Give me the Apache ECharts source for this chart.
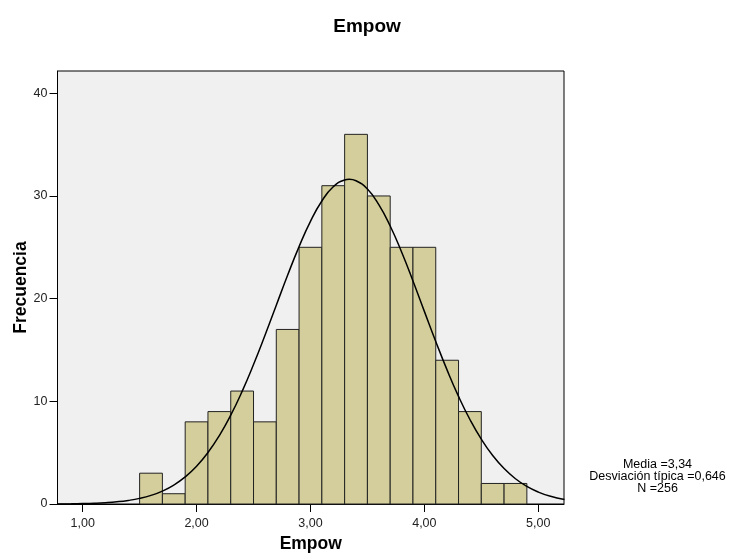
<!DOCTYPE html>
<html>
<head>
<meta charset="utf-8">
<script src="https://cdn.jsdelivr.net/npm/echarts@6/dist/echarts.min.js"></script>
<style>html,body{margin:0;padding:0;background:#fff}#c{width:734px;height:556px}</style>
</head>
<body>
<div id="c"></div>
<script>
// Histogram bins (lower edge, width 0.2) and frequencies
var binStarts = [1.5,1.7,1.9,2.1,2.3,2.5,2.7,2.9,3.1,3.3,3.5,3.7,3.9,4.1,4.3,4.5,4.7];
var binWidth = 0.2;
var counts = [3,1,8,9,11,8,17,25,31,36,30,25,25,14,9,2,2];
// Normal curve
var curveX = [0.78,0.9,1.0,1.1,1.2,1.3,1.4,1.5,1.6,1.7,1.8,1.9,2.0,2.1,2.2,2.3,2.4,2.5,2.6,2.7,2.8,2.9,3.0,3.1,3.2,3.3,3.34,3.4,3.5,3.6,3.7,3.8,3.9,4.0,4.1,4.2,4.3,4.4,4.5,4.6,4.7,4.8,4.9,5.0,5.1,5.23];
var curveY = [0.012,0.025,0.045,0.077,0.131,0.216,0.348,0.547,0.841,1.26,1.845,2.636,3.678,5.01,6.666,8.65,10.97,13.58,16.41,19.36,22.30,25.07,27.53,29.51,30.89,31.56,31.62,31.48,30.67,29.16,27.07,24.54,21.72,18.76,15.83,13.04,10.48,8.23,6.31,4.72,3.45,2.459,1.713,1.165,0.773,0.438];
var xTicks = [1,2,3,4,5];
var yTicks = [0,10,20,30,40];
var titleText = 'Empow';
var xName = 'Empow';
var yName = 'Frecuencia';
var statsLines = ['Media =3,34','Desviación típica =0,646','N =256'];

var font = 'Liberation Sans, Arial, sans-serif';
var chart = echarts.init(document.getElementById('c'));
var barData = binStarts.map(function(s,i){return [s, s+binWidth, counts[i]];});
var lineData = curveX.map(function(x,i){return [x, curveY[i]];});

chart.setOption({
  animation:false,
  backgroundColor:'#ffffff',
  title:{text:titleText,left:'center',top:12,textStyle:{fontFamily:font,fontSize:19,fontWeight:'bold',color:'#000'}},
  grid:{left:57.5,top:71,right:170,bottom:52,show:true,backgroundColor:'#f0f0f0',borderColor:'#000',borderWidth:1,containLabel:false,outerBoundsMode:'none'},
  xAxis:{type:'value',min:0.779,max:5.226,
    name:xName,nameLocation:'middle',nameGap:31,nameMoveOverlap:false,
    nameTextStyle:{fontFamily:font,fontSize:17.5,fontWeight:'bold',color:'#000'},
    axisLine:{show:true,onZero:false,lineStyle:{color:'#000',width:1}},
    axisTick:{show:true,customValues:xTicks,length:8,lineStyle:{color:'#000'}},
    axisLabel:{customValues:xTicks,fontFamily:font,fontSize:12.5,color:'#222',margin:13,
      formatter:function(v){return v.toFixed(2).replace('.',',');}},
    splitLine:{show:false}},
  yAxis:{type:'value',min:0,max:42.17,
    name:yName,nameLocation:'middle',nameGap:27,nameMoveOverlap:false,
    nameTextStyle:{fontFamily:font,fontSize:17.5,fontWeight:'bold',color:'#000'},
    axisLine:{show:true,lineStyle:{color:'#000',width:1}},
    axisTick:{show:true,customValues:yTicks,length:8,lineStyle:{color:'#000'}},
    axisLabel:{customValues:yTicks,fontFamily:font,fontSize:12.5,color:'#222',margin:10},
    splitLine:{show:false}},
  series:[
    {type:'custom',
     renderItem:function(params,api){
       var p0 = api.coord([api.value(0),0]);
       var p1 = api.coord([api.value(1),api.value(2)]);
       return {type:'rect',shape:{x:p0[0],y:p1[1],width:p1[0]-p0[0],height:p0[1]-p1[1]},
         style:{fill:'#d3ce9b',stroke:'#222',lineWidth:1}};
     },
     encode:{x:[0,1],y:2},
     data:barData,z:2},
    {type:'line',data:lineData,smooth:true,showSymbol:false,symbol:'none',clip:true,
     lineStyle:{color:'#000',width:1.5},z:3}
  ],
  graphic:[{type:'text',x:657.5,y:459,
    style:{text:statsLines.join('\n'),fontFamily:font,fontSize:12.5,fill:'#000',align:'center',verticalAlign:'top',lineHeight:11.7}}]
});
</script>
</body>
</html>
